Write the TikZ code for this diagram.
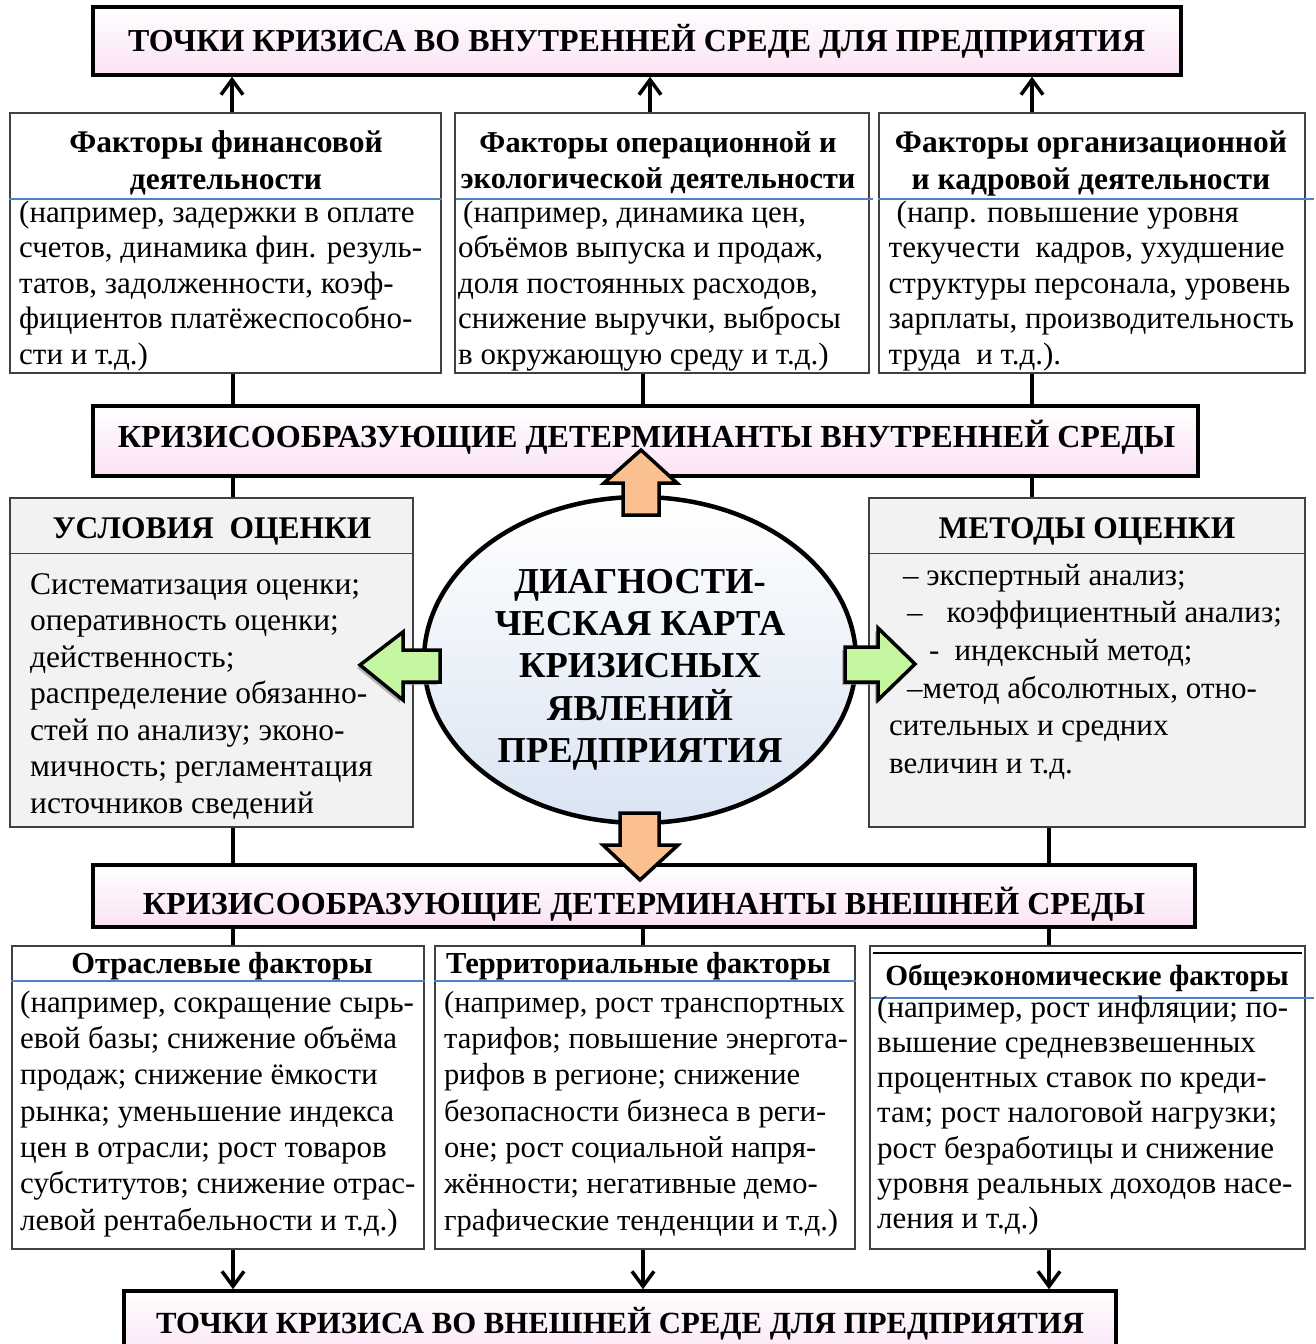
\documentclass[tikz,border=0pt]{standalone}
\usepackage{fontspec}
\setmainfont{Liberation Serif}
\usepackage{graphicx}
\usetikzlibrary{arrows.meta,shapes.geometric}
\definecolor{bpink}{RGB}{251,226,245}
\definecolor{ellblue}{RGB}{218,228,243}
\definecolor{boxfill}{RGB}{242,242,242}
\definecolor{boxgray}{RGB}{64,64,64}
\definecolor{lineblue}{RGB}{79,129,199}
\definecolor{orangefill}{RGB}{250,192,143}
\definecolor{greenfill}{RGB}{196,245,160}
\begin{document}
\begin{tikzpicture}[x=1pt,y=-1pt,
  banner/.style={draw=black, line width=3.5pt, top color=white, bottom color=bpink, rectangle, inner sep=0pt},
  fbox/.style={draw=boxgray, line width=1.5pt, rectangle, inner sep=0pt},
  gbox/.style={fbox, fill=boxfill},
  bantxt/.style={anchor=base, inner sep=0pt, font=\bfseries\fontsize{32}{38}\selectfont},
  hdr/.style={anchor=north, align=center, inner sep=0pt, font=\bfseries\fontsize{31.5}{37}\selectfont},
  hdrone/.style={anchor=base, inner sep=0pt, font=\bfseries\fontsize{31.5}{37}\selectfont},
  hdrlow/.style={anchor=base, inner sep=0pt, font=\bfseries\fontsize{30.5}{36}\selectfont},
  body/.style={anchor=north west, align=left, inner sep=0pt},
  conn/.style={line width=3.5pt},
  arr/.style={conn, -{Straight Barb[length=15pt,width=22pt]}},
  blueline/.style={draw=lineblue, line width=2pt},
  fat/.style={draw=black, line width=3.5pt, line join=miter}
]
\useasboundingbox (0,0) rectangle (1315,1344);
\fill[white] (0,0) rectangle (1315,1344);

% ---------- banners ----------
\node[banner, minimum width=1088pt, minimum height=68pt] (t1) at (637,41) {};
\node[banner, minimum width=1105pt, minimum height=70pt] (t2) at (645.5,441) {};
\node[banner, minimum width=1102pt, minimum height=62pt] (t3) at (644,896) {};
\node[banner, minimum width=992pt, minimum height=70pt] (t4) at (620,1326) {};

\node[bantxt] (t1txt) at (636.5,51) {\resizebox{1017pt}{!}{ТОЧКИ КРИЗИСА ВО ВНУТРЕННЕЙ СРЕДЕ ДЛЯ ПРЕДПРИЯТИЯ}};
\node[bantxt] (t2txt) at (646.5,447) {\resizebox{1057pt}{!}{КРИЗИСООБРАЗУЮЩИЕ ДЕТЕРМИНАНТЫ ВНУТРЕННЕЙ СРЕДЫ}};
\node[bantxt] (t3txt) at (644,914) {\resizebox{1002pt}{!}{КРИЗИСООБРАЗУЮЩИЕ ДЕТЕРМИНАНТЫ ВНЕШНЕЙ СРЕДЫ}};
\node[bantxt] (t4txt) at (620,1333) {\resizebox{928pt}{!}{ТОЧКИ КРИЗИСА ВО ВНЕШНЕЙ СРЕДЕ ДЛЯ ПРЕДПРИЯТИЯ}};

% ---------- top factor boxes ----------
\node[fbox, minimum width=431pt, minimum height=260pt] (b1) at (225.5,243) {};
\node[fbox, minimum width=414pt, minimum height=260pt] (b2) at (662,243) {};
\node[fbox, minimum width=426pt, minimum height=260pt] (b3) at (1092,243) {};

\draw[blueline] ([yshift=-87pt]b1.north west) -- ([yshift=-87pt]b1.north east);
\draw[blueline] ([xshift=2pt,yshift=-87pt]b2.north west) -- ([xshift=3pt,yshift=-87pt]b2.north east);
\draw[blueline] ([yshift=-87pt]b3.north west) -- ++(436,0);

\node[hdr] (b1h) at (226,126.1) {\strut Факторы финансовой\\деятельности};
\node[hdr, font=\bfseries\fontsize{30.3}{36}\selectfont] (b2h) at (658,126.6) {\strut Факторы операционной и\\экологической деятельности};
\node[hdr] (b3h) at (1091,126.1) {\strut Факторы организационной\\и кадровой деятельности};

\begin{scope}
\clip (b1.north west) rectangle (b1.south east);
\node[body, font=\fontsize{31}{35.5}\selectfont] (b1t) at (19,197.15) {\strut(например, задержки в оплате\\счетов, динамика фин. резуль-\\татов, задолженности, коэф-\\фициентов платёжеспособно-\\сти и т.д.)};
\end{scope}
\begin{scope}
\clip (b2.north west) rectangle (b2.south east);
\node[body, font=\fontsize{31}{35.5}\selectfont] (b2t) at (458,197.15) {\strut\hspace*{5pt}(например, динамика цен,\\объёмов выпуска и продаж,\\доля постоянных расходов,\\снижение выручки, выбросы\\в окружающую среду и т.д.)};
\end{scope}
\begin{scope}
\clip (b3.north west) rectangle (b3.south east);
\node[body, font=\fontsize{31}{35.5}\selectfont] (b3t) at (888.5,197.15) {\strut\hspace*{8pt}(напр. повышение уровня\\текучести\ \ кадров, ухудшение\\структуры персонала, уровень\\зарплаты, производительность\\труда\ \ и т.д.).};
\end{scope}

% ---------- middle gray boxes ----------
\node[gbox, minimum width=403pt, minimum height=329pt] (u) at (211.5,662.5) {};
\node[gbox, minimum width=436pt, minimum height=329pt] (m) at (1087,662.5) {};
\draw[draw=boxgray, line width=1.5pt] ([yshift=-56pt]u.north west) -- ([yshift=-56pt]u.north east);
\draw[draw=boxgray, line width=1.5pt] ([yshift=-56pt]m.north west) -- ([yshift=-56pt]m.north east);

\node[hdrone] (uh) at (212,538) {УСЛОВИЯ\ \ ОЦЕНКИ};
\node[hdrone] (mh) at (1087,538) {МЕТОДЫ ОЦЕНКИ};

\node[body, font=\fontsize{31.5}{36.5}\selectfont] (ut) at (30,568.45) {\strut Систематизация оценки;\\оперативность оценки;\\действенность;\\распределение обязанно-\\стей по анализу; эконо-\\мичность; регламентация\\источников сведений};
\node[body, font=\fontsize{31}{37.6}\selectfont] (mt) at (889,558.68) {\strut\hspace*{14pt}– экспертный анализ;\\\hspace*{18pt}–\hspace{24pt}коэффициентный анализ;\\\hspace*{40pt}-\hspace{15pt}индексный метод;\\\hspace*{18pt}–метод абсолютных, отно-\\сительных и средних\\величин и т.д.};

% ---------- central ellipse ----------
\node[ellipse, draw=black, line width=4.5pt, top color=white, bottom color=ellblue, minimum width=432pt, minimum height=326pt, inner sep=0pt] (el) at (640,660) {};
\node[anchor=north, align=center, inner sep=0pt, font=\bfseries\fontsize{36.5}{42.3}\selectfont] (elt) at (640,563.39) {\strut ДИАГНОСТИ-\\ЧЕСКАЯ КАРТА\\КРИЗИСНЫХ\\ЯВЛЕНИЙ\\ПРЕДПРИЯТИЯ};

% ---------- bottom factor boxes ----------
\node[fbox, minimum width=412pt, minimum height=303pt] (b4) at (218,1097.5) {};
\node[fbox, minimum width=420pt, minimum height=303pt] (b5) at (645,1097.5) {};
\node[fbox, minimum width=435pt, minimum height=303pt] (b6) at (1087.5,1097.5) {};

\draw[blueline] ([yshift=-36pt]b4.north west) -- ([yshift=-36pt]b4.north east);
\draw[blueline] ([yshift=-36pt]b5.north west) -- ([yshift=-36pt]b5.north east);
\draw[draw=black, line width=2.2pt] ([xshift=4pt,yshift=-8pt]b6.north west) -- ([xshift=-4pt,yshift=-8pt]b6.north east);
\draw[blueline] ([xshift=2pt,yshift=-53pt]b6.north west) -- ++(443,0);

\node[hdrlow] (b4h) at (222,973) {Отраслевые факторы};
\node[hdrlow, anchor=base west] (b5h) at (446,973) {Территориальные факторы};
\node[hdrlow, font=\bfseries\fontsize{29.3}{35}\selectfont] (b6h) at (1087,985) {Общеэкономические факторы};

\node[body, font=\fontsize{31}{36.3}\selectfont] (b4t) at (20,986.59) {\strut(например, сокращение сырь-\\евой базы; снижение объёма\\продаж; снижение ёмкости\\рынка; уменьшение индекса\\цен в отрасли; рост товаров\\субститутов; снижение отрас-\\левой рентабельности и т.д.)};
\node[body, font=\fontsize{30.5}{36.3}\selectfont] (b5t) at (444,986.59) {\strut(например, рост транспортных\\тарифов; повышение энергота-\\рифов в регионе; снижение\\безопасности бизнеса в реги-\\оне; рост социальной напря-\\жённости; негативные демо-\\графические тенденции и т.д.)};
\node[body, font=\fontsize{31}{35.2}\selectfont] (b6t) at (877,992.36) {\strut(например, рост инфляции; по-\\вышение средневзвешенных\\процентных ставок по креди-\\там; рост налоговой нагрузки;\\рост безработицы и снижение\\уровня реальных доходов насе-\\ления и т.д.)};

% ---------- connectors ----------
\draw[arr] ([xshift=6.5pt]b1.north) -- ([xshift=6.5pt]b1.north |- t1.south);
\draw[arr] ([xshift=-12pt]b2.north) -- ([xshift=-12pt]b2.north |- t1.south);
\draw[arr] ([xshift=-60pt]b3.north) -- ([xshift=-60pt]b3.north |- t1.south);

\draw[conn] ([xshift=7.5pt]b1.south) -- ([xshift=7.5pt]b1.south |- t2.north);
\draw[conn] ([xshift=-19pt]b2.south) -- ([xshift=-19pt]b2.south |- t2.north);
\draw[conn] ([xshift=-60pt]b3.south) -- ([xshift=-60pt]b3.south |- t2.north);

\draw[conn] ([xshift=21.5pt]u.north) -- ([xshift=21.5pt]u.north |- t2.south);
\draw[conn] ([xshift=-55pt]m.north) -- ([xshift=-55pt]m.north |- t2.south);

\draw[conn] ([xshift=21.5pt]u.south) -- ([xshift=21.5pt]u.south |- t3.north);
\draw[conn] ([xshift=-38pt]m.south) -- ([xshift=-38pt]m.south |- t3.north);

\draw[conn] ([xshift=15pt]b4.north) -- ([xshift=15pt]b4.north |- t3.south);
\draw[conn] ([xshift=-2pt]b5.north) -- ([xshift=-2pt]b5.north |- t3.south);
\draw[conn] ([xshift=-38.5pt]b6.north) -- ([xshift=-38.5pt]b6.north |- t3.south);

\draw[arr] ([xshift=15pt]b4.south) -- ([xshift=15pt]b4.south |- t4.north);
\draw[arr] ([xshift=-2pt]b5.south) -- ([xshift=-2pt]b5.south |- t4.north);
\draw[arr] ([xshift=-38.5pt]b6.south) -- ([xshift=-38.5pt]b6.south |- t4.north);

% ---------- block arrows ----------
\draw[fat, fill=orangefill] (641,450) -- (677,483) -- (659,483) -- (659,515) -- (623,515) -- (623,483) -- (604,483) -- cycle;
\draw[fat, fill=orangefill] (640,880) -- (678,845) -- (659,845) -- (659,813) -- (620,813) -- (620,845) -- (603,845) -- cycle;
\fill[black!45, opacity=0.6] (357,668) -- (400,635) -- (400,653) -- (437,653) -- (437,685) -- (400,685) -- (400,703) -- cycle;
\draw[fat, fill=greenfill] (360,665) -- (403,632) -- (403,650) -- (440,650) -- (440,682) -- (403,682) -- (403,700) -- cycle;
\fill[black!45, opacity=0.6] (912,667) -- (875,631) -- (875,650) -- (842,650) -- (842,685) -- (875,685) -- (875,703) -- cycle;
\draw[fat, fill=greenfill] (915,664) -- (878,628) -- (878,647) -- (845,647) -- (845,682) -- (878,682) -- (878,700) -- cycle;
\end{tikzpicture}
\end{document}
